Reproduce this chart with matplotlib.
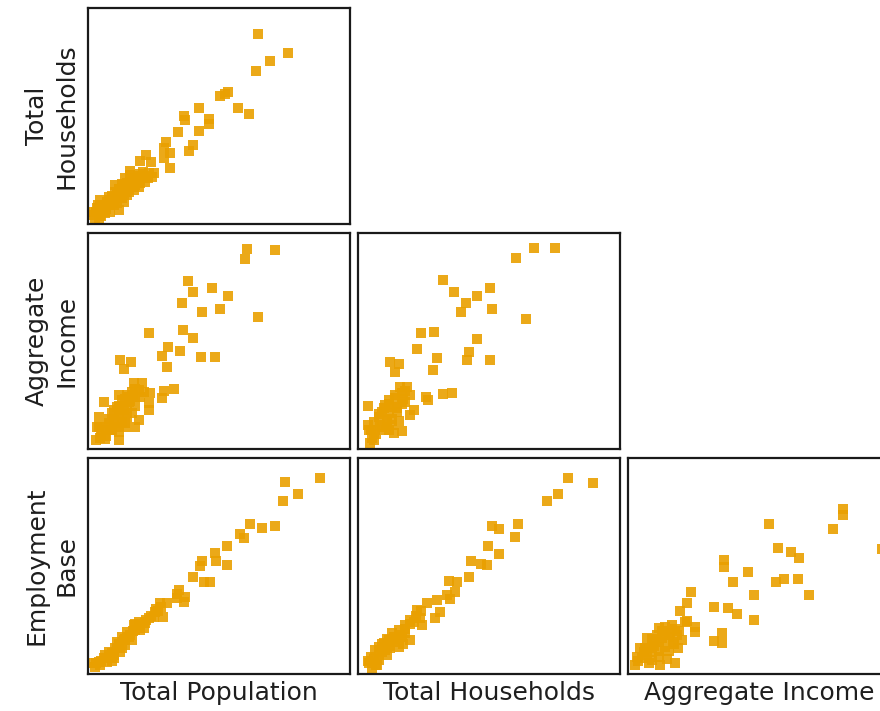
import matplotlib
matplotlib.use("Agg")
import matplotlib.pyplot as plt

# variable names
row_names = ['Total\nHouseholds', 'Aggregate\nIncome', 'Employment\nBase']
col_names = ['Total Population', 'Total Households', 'Aggregate Income']

# values, scaled 0-100 of the panel range
# Total Households vs Total Population
hh_pop_x = [64.7, 76.2, 69.5, 64.2, 50.4, 53.6, 52.1, 42.2, 57.2, 61.6, 36.7, 37.1, 46.0, 46.0,
            42.2, 34.3, 29.9, 39.9, 38.4, 29.1, 31.4, 29.1, 31.4, 22.2, 19.9, 24.0, 16.1, 25.0,
            24.4, 2.2, 4.1, 4.7, 3.4, 6.0, 7.9, 9.1, 10.4, 11.7, 11.7, 13.0, 14.2, 14.9, 16.1,
            17.4, 18.0, 19.3, 20.6, 21.9, 23.1, 6.6, 8.5, 11.1, 13.6, 15.5, 16.8, 18.7, 9.8,
            5.3, 7.2, 12.3, 1.5, 4.7, 2.8, 14.2, 10.4, 12.0, 16.0, 20.0, 8.0,
            3.0, 5.0, 6.0, 8.0, 9.0, 10.0, 12.0, 13.0, 14.0, 16.0, 17.0, 18.0, 19.0, 20.0,
            22.0, 15.0, 11.0, 7.0, 4.0, 13.0, 21.0, 23.0]
hh_pop_y = [88.1, 79.2, 75.5, 70.7, 59.3, 60.9, 60.1, 53.5, 53.5, 50.7, 49.9, 48.1, 48.5, 46.5,
            43.0, 42.4, 38.1, 36.8, 33.9, 35.0, 33.1, 30.4, 25.7, 31.9, 29.1, 28.8, 24.5, 23.4,
            21.9, 4.2, 2.6, 11.1, 7.2, 6.5, 8.8, 11.9, 14.9, 12.6, 6.5, 16.5, 18.0, 13.4, 19.6,
            15.7, 21.1, 17.3, 21.9, 19.6, 23.4, 4.9, 5.7, 9.6, 10.3, 14.9, 17.3, 19.6, 8.8,
            8.8, 10.3, 14.2, 5.7, 4.2, 1.8, 21.1, 18.0, 16.0, 22.5, 23.0, 12.5,
            5.5, 3.5, 9.0, 11.0, 13.0, 10.0, 16.0, 12.0, 15.0, 17.0, 20.0, 18.0, 22.0, 19.0,
            22.0, 19.0, 14.0, 7.0, 9.0, 18.5, 24.0, 21.5]

# Aggregate Income vs Total Population
inc_pop_x = [60.6, 71.2, 60.0, 38.0, 40.0, 47.3, 53.6, 35.8, 43.5, 50.4, 64.7, 23.1, 36.2, 39.9,
             30.4, 35.2, 28.2, 43.2, 48.3, 30.1, 12.1, 16.4, 13.8, 17.7, 20.6, 29.1, 33.0, 28.2,
             23.8, 23.1, 23.1, 6.0, 18.0, 11.7, 4.7, 6.6, 4.1, 4.1, 9.1, 11.0, 13.0, 14.9, 16.8,
             19.3, 15.5, 18.0, 13.6, 11.7, 9.8, 7.9, 14.9, 16.8, 13.0, 10.4, 6.6, 14.2, 5.3, 8.5,
             15.5, 18.0, 21.2, 19.3, 3.4, 11.7,
             8.0, 10.0, 12.0, 14.0, 16.0, 17.0, 13.0, 11.0, 9.0, 7.0, 15.0, 12.0, 18.0, 20.0,
             14.0, 5.0, 3.0]
inc_pop_y = [92.4, 92.3, 87.8, 77.8, 72.7, 74.6, 71.0, 67.8, 63.5, 65.0, 60.9, 53.9, 55.0, 51.5,
             47.3, 45.5, 43.0, 42.4, 42.4, 38.1, 41.4, 40.4, 37.0, 30.4, 30.4, 26.8, 27.9, 23.4,
             26.0, 18.0, 21.4, 21.9, 10.0, 7.7, 4.9, 4.6, 10.3, 14.9, 16.5, 19.6, 22.7, 25.0, 26.5,
             27.3, 21.6, 20.0, 18.0, 15.7, 13.4, 11.9, 14.9, 16.5, 12.6, 10.3, 10.3, 10.3, 8.8, 8.8,
             23.9, 23.9, 26.2, 13.4, 10.3, 4.2,
             14.0, 18.0, 20.0, 23.0, 22.0, 25.0, 16.0, 12.0, 9.0, 6.0, 19.0, 25.0, 28.0, 24.0,
             12.0, 6.0, 4.0]

# Aggregate Income vs Total Households
inc_hh_x = [67.2, 75.0, 60.3, 32.3, 36.7, 45.4, 50.2, 41.2, 39.4, 51.1, 64.2, 24.1, 29.1, 45.4,
            22.7, 30.1, 42.4, 41.5, 50.2, 28.6, 12.3, 15.5, 14.0, 16.1, 18.7, 32.3, 35.8, 25.9,
            26.9, 3.8, 21.2, 19.9, 16.8, 13.6, 4.1, 4.7, 5.3, 11.7, 14.2, 10.4, 13.0, 9.1, 11.7,
            14.9, 7.9, 11.1, 15.5, 6.0, 8.5, 13.0, 6.6, 10.8, 16.8, 19.9, 18.0, 16.8,
            8.0, 10.0, 12.0, 13.0, 15.0, 17.0, 11.0, 9.0, 7.0, 5.0, 14.0, 18.0, 12.0, 6.0, 4.0]
inc_hh_y = [93.1, 93.1, 88.6, 78.1, 72.7, 70.9, 74.6, 67.6, 63.2, 64.7, 60.4, 53.5, 54.2, 50.8,
            46.5, 41.9, 45.0, 41.1, 41.1, 36.5, 40.4, 39.3, 35.7, 28.8, 28.8, 25.3, 25.7, 24.2,
            22.7, 20.0, 18.0, 15.7, 8.3, 7.6, 8.8, 2.6, 4.9, 22.7, 23.4, 20.3, 19.6, 17.3, 16.5,
            17.3, 14.9, 13.4, 12.9, 12.6, 11.1, 11.1, 8.8, 8.8, 25.7, 25.0, 21.6, 20.8,
            16.0, 19.0, 21.0, 14.0, 19.0, 23.0, 12.0, 10.0, 7.0, 9.0, 25.0, 27.0, 9.0, 4.0, 11.0]

# Employment Base vs Total Population
emp_pop_x = [88.6, 75.0, 80.3, 74.3, 61.9, 66.3, 71.4, 58.1, 59.7, 53.2, 48.5, 48.9, 53.2, 43.5,
             42.6, 39.9, 44.1, 46.4, 34.6, 33.9, 36.5, 37.1, 27.6, 28.8, 25.7, 23.1, 19.3, 21.2,
             18.0, 15.5, 13.6, 16.8, 11.7, 10.4, 9.1, 7.9, 6.0, 4.1, 2.8, 4.7, 7.2, 9.8, 12.3,
             14.2, 19.9, 21.9, 25.0, 26.9, 14.9, 17.4, 13.0, 11.1, 6.6, 2.2,
             5.0, 8.0, 10.0, 12.0, 14.0, 16.0, 18.0, 20.0, 22.0, 24.0, 26.0, 17.0, 13.0, 9.0,
             3.0, 28.0, 30.0, 34.0]
emp_pop_y = [90.9, 88.9, 83.5, 80.1, 69.6, 67.6, 68.6, 64.6, 63.0, 59.2, 55.8, 52.2, 50.4, 52.2,
             50.1, 45.0, 42.4, 42.4, 38.8, 35.3, 33.4, 35.7, 32.7, 26.5, 28.8, 25.7, 24.2, 21.1,
             20.3, 17.3, 15.7, 15.7, 13.4, 11.9, 9.6, 8.0, 7.2, 5.7, 3.4, 4.2, 5.7, 7.2, 10.3,
             13.4, 20.3, 23.4, 26.2, 29.3, 19.6, 22.7, 17.3, 14.9, 8.8, 4.9,
             6.0, 10.0, 9.0, 14.0, 16.0, 18.0, 23.0, 22.0, 25.0, 27.0, 30.0, 20.0, 12.0, 6.0,
             5.0, 31.0, 33.0, 37.0]

# Employment Base vs Total Households
emp_hh_x = [80.3, 89.6, 76.5, 72.0, 60.9, 60.0, 51.1, 53.9, 49.6, 54.0, 43.2, 47.0, 49.2, 42.2,
            34.6, 37.7, 37.1, 33.9, 35.2, 30.1, 26.3, 31.4, 29.5, 22.5, 23.8, 24.4, 19.9, 18.0,
            15.5, 19.9, 13.6, 11.7, 9.8, 7.9, 6.6, 5.1, 4.1, 5.3, 7.9, 11.1, 12.3, 15.5, 16.8,
            14.2, 9.1, 18.0, 21.2, 7.2, 10.4,
            6.0, 8.0, 10.0, 12.0, 14.0, 16.0, 18.0, 20.0, 22.0, 24.0, 13.0, 11.0, 9.0, 7.0,
            4.0, 17.0]
emp_hh_y = [90.8, 88.6, 83.2, 80.1, 69.6, 63.5, 68.6, 67.3, 59.2, 55.5, 52.2, 50.7, 50.4, 44.7,
            42.9, 42.4, 38.1, 36.5, 34.8, 34.1, 32.7, 28.8, 25.7, 29.6, 25.7, 22.7, 25.0, 22.7,
            20.3, 15.7, 17.3, 15.7, 14.2, 12.6, 11.1, 8.0, 4.9, 2.6, 6.5, 8.8, 11.9, 12.6, 17.3,
            14.9, 10.3, 19.0, 24.2, 4.2, 11.1,
            7.0, 9.0, 12.0, 13.0, 16.0, 18.0, 21.0, 23.0, 27.0, 29.0, 19.0, 16.0, 14.0, 4.0,
            6.0, 14.0]

# Employment Base vs Aggregate Income
emp_inc_x = [82.2, 82.2, 78.4, 53.9, 96.9, 57.2, 62.3, 65.1, 36.8, 36.8, 45.7, 39.9, 56.5, 59.7,
             64.7, 48.2, 68.9, 24.0, 22.5, 32.7, 38.0, 41.5, 48.2, 20.0, 25.7, 25.7, 35.8, 32.7,
             35.8, 18.0, 12.3, 2.8, 4.7, 7.2, 11.7, 14.2, 16.8, 21.9, 18.7, 15.5, 13.0, 10.4,
             20.6, 17.4, 14.2, 11.7, 9.2, 7.2, 15.5, 5.3, 9.2, 3.4, 19.3, 22.5, 6.6, 7.9,
             8.0, 10.0, 12.0, 14.0, 16.0, 18.0, 13.0, 11.0, 9.0, 6.0, 4.0, 17.0, 19.0, 12.0, 15.0]
emp_inc_y = [76.2, 73.5, 67.3, 69.6, 57.9, 58.4, 56.5, 53.9, 52.7, 49.6, 47.0, 42.7, 42.7, 44.2,
             44.2, 36.5, 36.5, 38.1, 33.0, 31.1, 30.4, 27.6, 25.0, 29.1, 21.9, 19.6, 19.1, 15.4,
             14.2, 4.9, 4.2, 4.2, 12.2, 16.5, 21.1, 21.9, 22.7, 24.2, 18.0, 17.3, 16.5, 14.9,
             15.7, 13.9, 12.3, 10.8, 10.3, 8.8, 10.6, 7.2, 6.5, 8.0, 19.9, 24.7, 11.9, 4.9,
             12.0, 13.0, 15.0, 18.0, 19.0, 21.0, 20.0, 18.0, 16.0, 10.0, 6.0, 15.0, 12.0, 8.0, 7.0]

panels = {
    (0, 0): (hh_pop_x, hh_pop_y),
    (1, 0): (inc_pop_x, inc_pop_y),
    (1, 1): (inc_hh_x, inc_hh_y),
    (2, 0): (emp_pop_x, emp_pop_y),
    (2, 1): (emp_hh_x, emp_hh_y),
    (2, 2): (emp_inc_x, emp_inc_y),
}

W, H = 880, 711
fig = plt.figure(figsize=(W / 100, H / 100), dpi=100)

col_left = [88, 358, 628]
row_top = [8, 233, 458]
pw, ph = 262, 216

point_color = '#E9A000'
text_color = '#1e1e1e'

for (r, c), (xs, ys) in panels.items():
    ax = fig.add_axes([col_left[c] / W, 1 - (row_top[r] + ph) / H, pw / W, ph / H])
    ax.scatter(xs, ys, marker='s', s=52, color=point_color, alpha=0.9, linewidths=0)
    ax.set_xlim(0, 100)
    ax.set_ylim(0, 100)
    ax.set_xticks([])
    ax.set_yticks([])
    for sp in ax.spines.values():
        sp.set_linewidth(1.6)
        sp.set_color('#1a1a1a')
    if c == 0:
        ax.set_ylabel(row_names[r], fontsize=18, color=text_color, labelpad=7, linespacing=1.3)
    if r == 2:
        ax.set_xlabel(col_names[c], fontsize=18, color=text_color, labelpad=5)

plt.savefig('out.png', dpi=100)
